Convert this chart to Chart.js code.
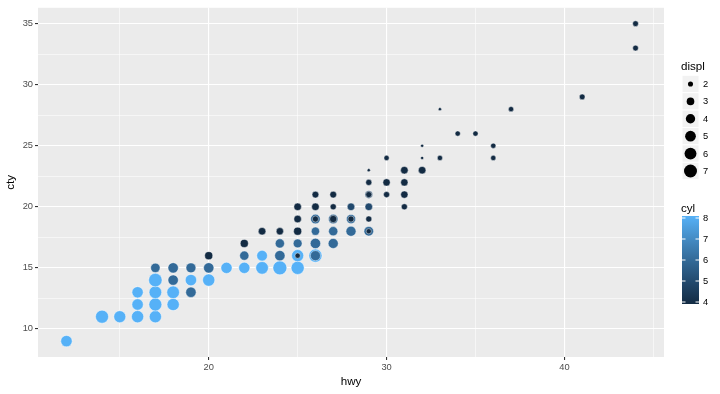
<!DOCTYPE html>
<html>
<head>
<meta charset="utf-8">
<script src="https://cdn.jsdelivr.net/npm/chart.js@4"></script>
<style>
  html, body { margin: 0; padding: 0; background: #ffffff; }
  #wrap { width: 720px; height: 394px; }
</style>
</head>
<body>
<div id="wrap"><canvas id="grafico" width="720" height="394"></canvas></div>
<script>
// valores (pontos visíveis; sobrepostos na ordem em que aparecem)
const hwy = [12, 14, 15, 16, 17, 16, 17, 18, 16, 17, 18, 19, 17, 18, 19, 20,
  17, 18, 19, 20, 21, 22, 23, 24, 25, 20, 22, 23, 24, 25, 25, 26, 26,
  22, 24, 25, 26, 27, 23, 24, 25, 26, 27, 28, 29, 29,
  25, 26, 26, 27, 27, 28, 28, 29, 25, 26, 27, 28, 29, 31,
  26, 27, 29, 29, 30, 31, 29, 30, 31, 29, 31, 32, 30, 32, 33, 36,
  32, 36, 34, 35, 33, 37, 41, 44, 44];
const cty = [9, 11, 11, 11, 11, 12, 12, 12, 13, 13, 13, 13, 14, 14, 14, 14,
  15, 15, 15, 15, 15, 15, 15, 15, 15, 16, 16, 16, 16, 16, 16, 16, 16,
  17, 17, 17, 17, 17, 18, 18, 18, 18, 18, 18, 18, 18,
  19, 19, 19, 19, 19, 19, 19, 19, 20, 20, 20, 20, 20, 20,
  21, 21, 21, 21, 21, 21, 22, 22, 22, 23, 23, 23, 24, 24, 24, 24,
  25, 25, 26, 26, 28, 28, 29, 33, 35];
const displ = [4.7, 6.1, 5.2, 5.4, 5.4, 4.7, 6.0, 5.4, 4.6, 5.7, 5.7, 4.0, 6.5, 4.0, 4.7, 5.4,
  3.4, 4.0, 3.7, 4.0, 4.6, 4.6, 5.7, 7.0, 6.2, 2.7, 3.3, 4.2, 4.0, 5.3, 1.8, 6.2, 3.8,
  2.7, 3.3, 3.1, 4.0, 3.8, 2.5, 2.4, 2.7, 2.8, 3.3, 3.8, 3.5, 1.8,
  2.5, 3.5, 2.0, 3.5, 2.4, 3.3, 2.0, 2.0, 2.5, 2.5, 2.0, 2.5, 2.5, 2.0,
  2.2, 2.2, 2.5, 2.0, 2.0, 2.4, 2.0, 2.4, 2.4, 1.6, 2.5, 2.5, 1.8, 1.6, 1.8, 1.8,
  1.6, 1.8, 1.8, 1.8, 1.6, 1.8, 1.9, 1.9, 1.9];
const cyl = [8, 8, 8, 8, 8, 8, 8, 8, 8, 8, 8, 6, 8, 6, 8, 8,
  6, 6, 6, 6, 8, 8, 8, 8, 8, 4, 6, 8, 6, 8, 4, 8, 6,
  4, 6, 6, 6, 6, 4, 4, 4, 6, 6, 6, 6, 4,
  4, 6, 4, 6, 4, 6, 4, 4, 4, 4, 4, 5, 5, 4,
  4, 4, 5, 4, 4, 4, 4, 4, 4, 4, 4, 4, 4, 4, 4, 4,
  4, 4, 4, 4, 4, 4, 4, 4, 4];

// eixos e legendas
const xTicks = [15, 20, 25, 30, 35, 40, 45];
const xLabels = [20, 30, 40];
const yTicks = [10, 12.5, 15, 17.5, 20, 22.5, 25, 27.5, 30, 32.5, 35];
const yLabels = [10, 15, 20, 25, 30, 35];
const displLegend = [2, 3, 4, 5, 6, 7];
const cylLegend = [8, 7, 6, 5, 4];

const displRange = [1.6, 7.0];
const cylColors = ["#132B43", "#22496D", "#336A98", "#458DC6", "#56B1F7"]; // cyl 4..8
const fonte = "'Liberation Sans', Arial, sans-serif";

// escala de tamanho (área) como no ggplot
function tamanho(d) {
    const t = (d - displRange[0]) / (displRange[1] - displRange[0]);
    return 1.08 * (1 + 5 * Math.sqrt(Math.max(0, t)));
}
function corCyl(c) {
    return cylColors[Math.round(c) - 4];
}

const pontos = hwy.map((h, i) => ({ x: h, y: cty[i] }));

const fundoPainel = {
    id: "fundoPainel",
    beforeDraw(chart) {
        const { ctx, chartArea } = chart;
        ctx.save();
        ctx.fillStyle = "#ffffff";
        ctx.fillRect(0, 0, chart.width, chart.height);
        ctx.fillStyle = "#EBEBEB";
        ctx.fillRect(chartArea.left, chartArea.top, chartArea.right - chartArea.left, chartArea.bottom - chartArea.top);
        ctx.restore();
    }
};

const legendas = {
    id: "legendas",
    afterDraw(chart) {
        const ctx = chart.ctx;
        const lx = 682, kw = 17, kh = 17.4;
        ctx.save();
        // displ
        ctx.fillStyle = "#000";
        ctx.font = "11.6px " + fonte;
        ctx.textAlign = "left";
        ctx.textBaseline = "middle";
        ctx.fillText("displ", lx - 1, 67);
        displLegend.forEach((v, i) => {
            const cy = 84 + i * kh;
            ctx.fillStyle = "#F2F2F2";
            ctx.fillRect(lx, cy - kh / 2, kw, kh);
            ctx.strokeStyle = "#ffffff";
            ctx.lineWidth = 1;
            ctx.strokeRect(lx, cy - kh / 2, kw, kh);
            ctx.fillStyle = "#000";
            ctx.beginPath();
            ctx.arc(lx + kw / 2, cy, tamanho(v), 0, Math.PI * 2);
            ctx.fill();
            ctx.font = "9.3px " + fonte;
            ctx.fillText(String(v), lx + kw + 4, cy + 0.5);
        });
        // cyl
        ctx.font = "11.6px " + fonte;
        ctx.fillText("cyl", lx - 1, 209);
        const top = 216, bottom = 304;
        const grad = ctx.createLinearGradient(0, bottom, 0, top);
        cylColors.forEach((c, i) => grad.addColorStop(i / (cylColors.length - 1), c));
        ctx.fillStyle = grad;
        ctx.fillRect(lx, top, kw, bottom - top);
        cylLegend.forEach(v => {
            const y = 302 - (v - 4) * 21;
            ctx.strokeStyle = "#ffffff";
            ctx.lineWidth = 1;
            ctx.beginPath();
            ctx.moveTo(lx, y); ctx.lineTo(lx + 3.5, y);
            ctx.moveTo(lx + kw - 3.5, y); ctx.lineTo(lx + kw, y);
            ctx.stroke();
            ctx.fillStyle = "#000";
            ctx.font = "9.3px " + fonte;
            ctx.fillText(String(v), lx + kw + 4, y + 0.5);
        });
        ctx.restore();
    }
};

function gradeLargura(ctx, labels) {
    return ctx.tick && labels.includes(ctx.tick.value) ? 1.1 : 0.55;
}
function gradeTick(ctx, labels) {
    return ctx.tick && labels.includes(ctx.tick.value) ? "#333333" : "rgba(0,0,0,0)";
}

new Chart(document.getElementById("grafico").getContext("2d"), {
    type: "scatter",
    data: {
        datasets: [{
            data: pontos,
            pointRadius: (c) => tamanho(displ[c.dataIndex]) + 0.5,
            pointBackgroundColor: (c) => corCyl(cyl[c.dataIndex]),
            pointBorderColor: "rgba(255,255,255,0.55)",
            pointBorderWidth: 0.8,
            pointHoverRadius: (c) => tamanho(displ[c.dataIndex]) + 0.5,
        }],
    },
    options: {
        responsive: false,
        animation: false,
        events: [],
        layout: { padding: { top: 5, right: 56, left: 0, bottom: 0 } },
        plugins: {
            legend: { display: false },
            tooltip: { enabled: false },
        },
        scales: {
            x: {
                type: "linear",
                min: 10.4,
                max: 45.6,
                afterBuildTicks: (s) => { s.ticks = xTicks.map(v => ({ value: v })); },
                afterFit: (s) => { s.height = 37; },
                border: { display: false },
                grid: {
                    color: "#ffffff",
                    lineWidth: (c) => gradeLargura(c, xLabels),
                    tickLength: 3,
                    tickColor: (c) => gradeTick(c, xLabels),
                    tickWidth: 1.1,
                },
                ticks: {
                    autoSkip: false,
                    maxRotation: 0,
                    padding: 2,
                    color: "#4D4D4D",
                    font: { family: fonte, size: 9.3 },
                    callback: (v) => xLabels.includes(v) ? String(v) : "",
                },
                title: {
                    display: true,
                    text: "hwy",
                    color: "#000",
                    font: { family: fonte, size: 11.6 },
                    padding: { top: 0, bottom: 5 },
                },
            },
            y: {
                type: "linear",
                min: 7.7,
                max: 36.3,
                afterBuildTicks: (s) => { s.ticks = yTicks.map(v => ({ value: v })); },
                afterFit: (s) => { s.width = 38; },
                border: { display: false },
                grid: {
                    color: "#ffffff",
                    lineWidth: (c) => gradeLargura(c, yLabels),
                    tickLength: 3,
                    tickColor: (c) => gradeTick(c, yLabels),
                    tickWidth: 1.1,
                },
                ticks: {
                    autoSkip: false,
                    padding: 2,
                    color: "#4D4D4D",
                    font: { family: fonte, size: 9.3 },
                    callback: (v) => yLabels.includes(v) ? String(v) : "",
                },
                title: {
                    display: true,
                    text: "cty",
                    color: "#000",
                    font: { family: fonte, size: 11.6 },
                    padding: { top: 4, bottom: 0 },
                },
            },
        },
    },
    plugins: [fundoPainel, legendas],
});
</script>
</body>
</html>
